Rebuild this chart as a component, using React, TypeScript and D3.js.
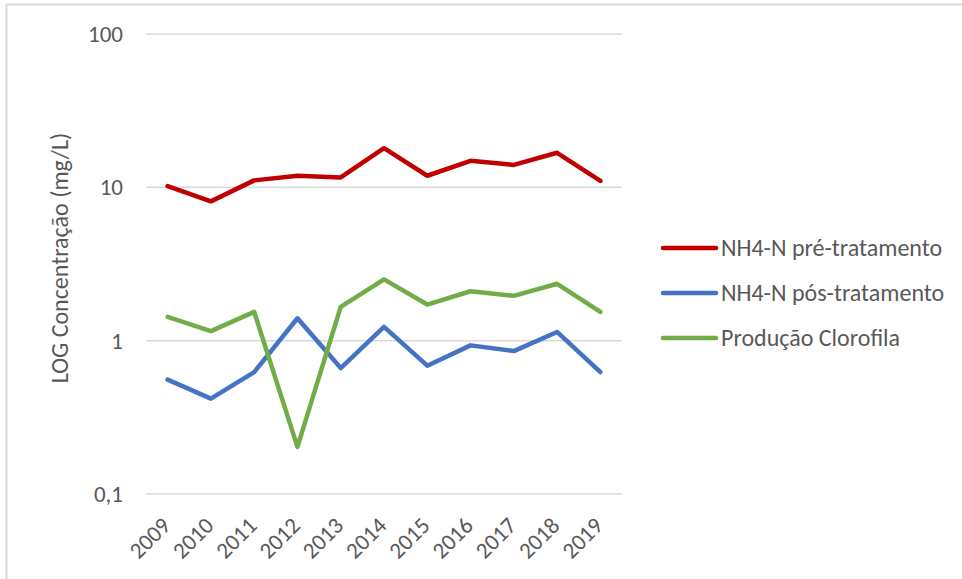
import React from "react";
import * as d3 from "d3";

const years = ["2009","2010","2011","2012","2013","2014","2015","2016","2017","2018","2019"];
const nh4Pre = [10.2, 8.1, 11.1, 11.9, 11.6, 18.0, 11.9, 14.9, 14.0, 16.8, 11.0];
const nh4Pos = [0.557, 0.419, 0.624, 1.40, 0.663, 1.23, 0.687, 0.932, 0.855, 1.14, 0.624];
const clorofila = [1.43, 1.155, 1.54, 0.203, 1.66, 2.51, 1.72, 2.10, 1.96, 2.35, 1.54];
const yTicks = [0.1, 1, 10, 100];
const yTickLabels = ["0,1", "1", "10", "100"];
const seriesNames = ["NH4-N pré-tratamento", "NH4-N pós-tratamento", "Produção Clorofila"];
const seriesColors = ["#C00000", "#4472C4", "#70AD47"];

const W = 962, H = 579;
const plot = { left: 146, right: 622, top: 34, bottom: 494 };
const font = "Calibri, Carlito, 'Liberation Sans', Arial, sans-serif";

export default function App() {
  const x = d3.scaleBand<string>().domain(years).range([plot.left, plot.right]);
  const y = d3.scaleLog().domain([0.1, 100]).range([plot.bottom, plot.top]);
  const line = d3.line<number>()
    .x((_, i) => (x(years[i]) as number) + x.bandwidth() / 2)
    .y((d) => y(d));
  const series = [nh4Pre, nh4Pos, clorofila];
  return (
    <svg width={W} height={H} style={{ position: "absolute", left: 0, top: 0, background: "#fff" }}>
      <line x1={6} x2={W} y1={4.5} y2={4.5} stroke="#D9D9D9" strokeWidth={2} />
      <line x1={6.5} x2={6.5} y1={4} y2={H} stroke="#D9D9D9" strokeWidth={2} />
      {yTicks.map((t, i) => (
        <g key={t}>
          <line x1={plot.left} x2={plot.right} y1={y(t)} y2={y(t)} stroke="#D9D9D9" strokeWidth={1.5} />
          <text x={123} y={y(t)} dy="0.35em" textAnchor="end" fontFamily={font} fontSize={23} fill="#595959">{yTickLabels[i]}</text>
        </g>
      ))}
      {years.map((yr) => {
        const cx = (x(yr) as number) + x.bandwidth() / 2;
        return (
          <text key={yr} transform={`translate(${cx + 4},${plot.bottom + 33}) rotate(-45)`} textAnchor="end"
            fontFamily={font} fontSize={23} fill="#595959">{yr}</text>
        );
      })}
      <text transform={`translate(68,${(plot.top + plot.bottom) / 2 - 6}) rotate(-90)`} textAnchor="middle"
        fontFamily={font} fontSize={24} fill="#595959">LOG Concentração (mg/L)</text>
      {series.map((s, i) => (
        <path key={i} d={line(s) || ""} fill="none" stroke={seriesColors[i]} strokeWidth={4.5}
          strokeLinejoin="round" strokeLinecap="round" />
      ))}
      {seriesNames.map((n, i) => (
        <g key={n} transform={`translate(0,${248 + i * 45})`}>
          <line x1={663} x2={716} y1={0} y2={0} stroke={seriesColors[i]} strokeWidth={4.5} strokeLinecap="round" />
          <text x={721} y={0} dy="0.35em" fontFamily={font} fontSize={24} fill="#595959">{n}</text>
        </g>
      ))}
    </svg>
  );
}
